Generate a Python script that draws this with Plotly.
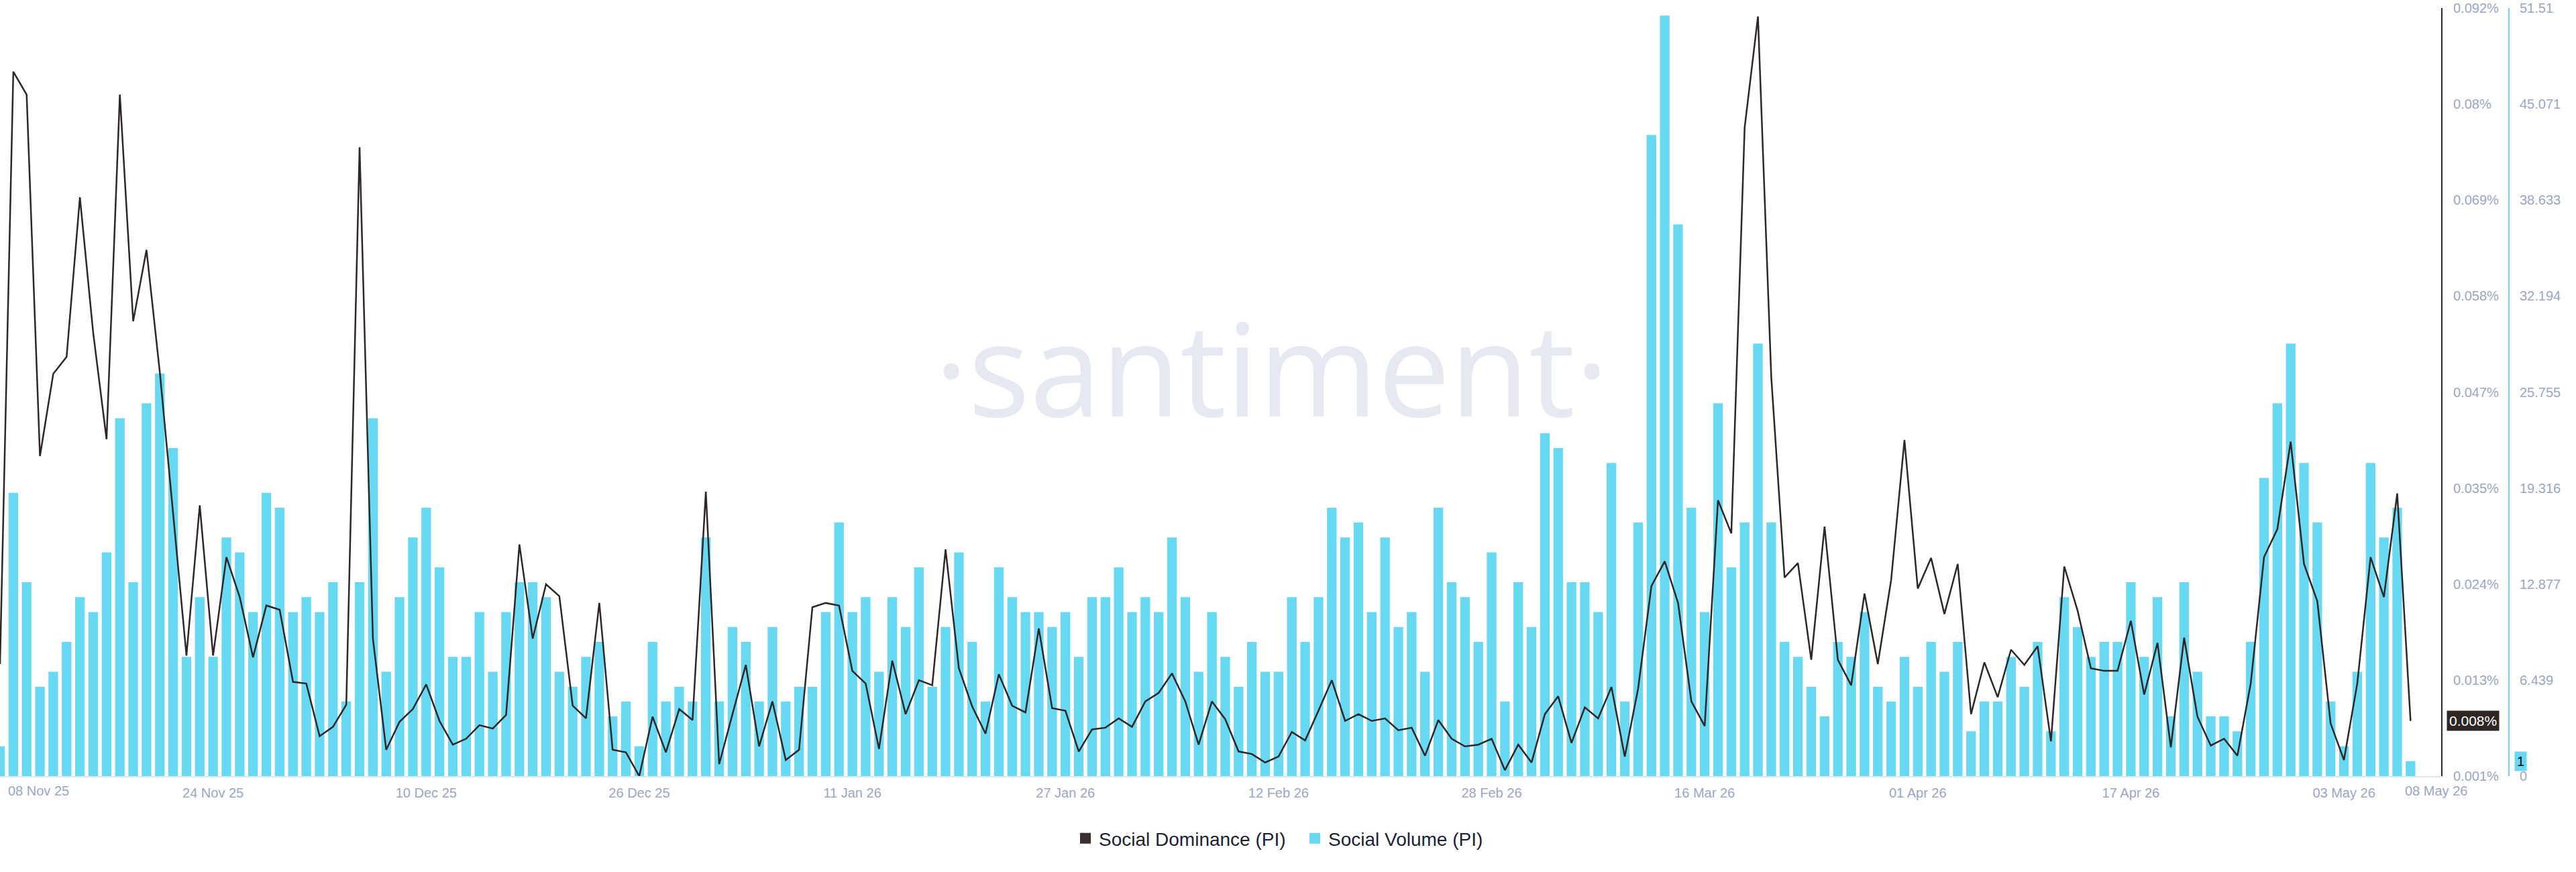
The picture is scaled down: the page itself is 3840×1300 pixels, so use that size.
import pandas as pd
import plotly.graph_objects as go

# ---------------- data ----------------
start_date = "2025-11-08"
end_date = "2026-05-08"
dates = pd.date_range(start_date, end_date, freq="D")

social_volume = [
    2, 19, 13, 6, 7, 9, 12, 11, 15, 24, 13, 25, 27, 22, 8, 12, 8, 16, 15, 11,
    19, 18, 11, 12, 11, 13, 5, 13, 24, 7, 12, 16, 18, 14, 8, 8, 11, 7, 11, 13,
    13, 12, 7, 6, 8, 9, 4, 5, 2,
    9, 5, 6, 5, 16, 5, 10, 9, 5, 10, 5, 6, 6, 11, 17, 11, 12, 7, 12, 10,
    14, 6, 10, 15, 9, 5, 14, 12, 11, 11, 10, 11, 8, 12, 12, 14, 11, 12, 11, 16,
    12, 7, 11, 8, 6, 9, 7, 7, 12,
    9, 12, 18, 16, 17, 11, 16, 10, 11, 7, 18, 13, 12, 9, 15, 5, 13, 10, 23, 22,
    13, 13, 11, 21, 5, 17, 43, 51, 37, 18, 11, 25, 14, 17, 29, 17, 9, 8, 6, 4,
    9, 8, 11, 6, 5, 8, 6,
    9, 7, 9, 3, 5, 5, 8, 6, 9, 3, 12, 10, 8, 9, 9, 13, 8, 12, 4, 13,
    7, 4, 4, 3, 9, 20, 25, 29, 21, 17, 5, 2, 7, 21, 16, 18, 1,
]

social_dominance = [  # percent
    0.0145, 0.0843, 0.0816, 0.0390, 0.0487, 0.0507, 0.0695, 0.0535, 0.0410, 0.0816,
    0.0549, 0.0633, 0.0489, 0.0325, 0.0155, 0.0332, 0.0155, 0.0271, 0.0224, 0.0153,
    0.0214, 0.0209, 0.0124, 0.0122, 0.0060, 0.0071, 0.0097, 0.0754, 0.0175, 0.0044,
    0.0077, 0.0092, 0.0121, 0.0078, 0.0050, 0.0057, 0.0073, 0.0069, 0.0085, 0.0286,
    0.0175, 0.0239, 0.0225, 0.0096, 0.0081, 0.0217, 0.0044, 0.0041, 0.0013, 0.0083,
    0.0041, 0.0092, 0.0079, 0.0348, 0.0027, 0.0086, 0.0144, 0.0048, 0.0101, 0.0032,
    0.0044, 0.0212, 0.0217, 0.0214, 0.0137, 0.0122, 0.0045, 0.0149, 0.0086, 0.0126,
    0.0120, 0.0280, 0.0140, 0.0095, 0.0063, 0.0133, 0.0096, 0.0088, 0.0187, 0.0093,
    0.0090, 0.0042, 0.0068, 0.0070, 0.0081, 0.0071, 0.0101, 0.0111, 0.0134, 0.0101,
    0.0050, 0.0101, 0.0080, 0.0042, 0.0039, 0.0029, 0.0036, 0.0065, 0.0055, 0.0090,
    0.0126, 0.0078, 0.0086, 0.0078, 0.0081, 0.0067, 0.0070, 0.0037, 0.0079, 0.0057,
    0.0048, 0.0050, 0.0057, 0.0020, 0.0050, 0.0029, 0.0086, 0.0107, 0.0052, 0.0094,
    0.0081, 0.0118, 0.0036, 0.0116, 0.0237, 0.0266, 0.0217, 0.0101, 0.0072, 0.0338,
    0.0299, 0.0777, 0.0908, 0.0483, 0.0247, 0.0264, 0.0150, 0.0307, 0.0150, 0.0120,
    0.0228, 0.0145, 0.0244, 0.0409, 0.0234, 0.0270, 0.0204, 0.0263, 0.0086, 0.0147,
    0.0106, 0.0162, 0.0144, 0.0166, 0.0054, 0.0260, 0.0208, 0.0140, 0.0137, 0.0137,
    0.0196, 0.0109, 0.0170, 0.0047, 0.0176, 0.0083, 0.0049, 0.0057, 0.0037, 0.0122,
    0.0271, 0.0304, 0.0407, 0.0263, 0.0219, 0.0075, 0.0032, 0.0122, 0.0271, 0.0224,
    0.0346, 0.0078,
]

x_tick_dates = ["2025-11-24", "2025-12-10", "2025-12-26", "2026-01-11", "2026-01-27",
                "2026-02-12", "2026-02-28", "2026-03-16", "2026-04-01", "2026-04-17",
                "2026-05-03"]
x_first_label = "08 Nov 25"
x_last_label = "08 May 26"

dom_ticktext = ["0.001%", "0.013%", "0.024%", "0.035%", "0.047%", "0.058%", "0.069%", "0.08%", "0.092%"]
dom_range = [0.0013, 0.0918]
vol_ticktext = ["0", "6.439", "12.877", "19.316", "25.755", "32.194", "38.633", "45.071", "51.51"]
vol_tickvals = [0, 6.439, 12.877, 19.316, 25.755, 32.194, 38.633, 45.071, 51.51]
vol_range = [0, 51.51]

series_names = ["Social Dominance (PI)", "Social Volume (PI)"]
last_dom_label = "0.008%"
last_vol_label = "1"

# ---------------- style ----------------
W, H = 3840, 1300
PLOT_RIGHT = 3639        # dominance axis line
PAPER_RIGHT = 3740       # volume axis line
TOP, BOTTOM = 12, 1157
LINE_COLOR = "#2f2626"
BAR_COLOR = "#68d9f2"
TICK_COLOR = "#9ca6c4"
FONT = "Liberation Sans, Arial, sans-serif"

n_steps = len(dom_ticktext) - 1
dom_tickvals = [dom_range[0] + i * (dom_range[1] - dom_range[0]) / n_steps for i in range(n_steps + 1)]

x_end = pd.Timestamp(end_date) + pd.Timedelta(hours=2.3 * 24)

fig = go.Figure()
fig.add_trace(go.Bar(
    x=dates, y=social_volume, name=series_names[1], marker=dict(color=BAR_COLOR, line=dict(width=0)),
    yaxis="y", showlegend=False,
))
fig.add_trace(go.Scatter(
    x=dates, y=social_dominance, name=series_names[0], mode="lines",
    line=dict(color=LINE_COLOR, width=2.5), yaxis="y2", showlegend=False,
))
# legend entries (square swatches)
fig.add_trace(go.Scatter(x=[None], y=[None], mode="markers", name=series_names[0],
                         marker=dict(symbol="square", size=18, color="#3a2f2e"), yaxis="y2"))
fig.add_trace(go.Scatter(x=[None], y=[None], mode="markers", name=series_names[1],
                         marker=dict(symbol="square", size=18, color=BAR_COLOR), yaxis="y2"))

pw = PAPER_RIGHT
ph = BOTTOM - TOP

annotations = [
    dict(text="·santiment·", xref="paper", yref="paper", x=1895 / pw, y=(BOTTOM - 546) / ph,
         xanchor="center", yanchor="middle", showarrow=False,
         font=dict(family="Open Sans", size=192, color="#e6e8f2")),
    dict(text=x_first_label, xref="paper", yref="paper", x=10 / pw, y=(BOTTOM - 1179) / ph,
         xanchor="left", yanchor="middle", showarrow=False,
         font=dict(family=FONT, size=20, color=TICK_COLOR)),
    dict(text=x_last_label, xref="paper", yref="paper", x=3583 / pw, y=(BOTTOM - 1179) / ph,
         xanchor="left", yanchor="middle", showarrow=False,
         font=dict(family=FONT, size=20, color=TICK_COLOR)),
    dict(text=last_dom_label, xref="paper", yref="y2", x=3686 / pw, y=social_dominance[-1],
         xanchor="center", yanchor="middle", showarrow=False, bgcolor=LINE_COLOR, borderpad=3,
         font=dict(family=FONT, size=21, color="#ffffff")),
    dict(text=last_vol_label, xref="paper", yref="y", x=3757 / pw, y=social_volume[-1],
         xanchor="center", yanchor="middle", showarrow=False, bgcolor=BAR_COLOR, borderpad=3,
         font=dict(family=FONT, size=20, color="#000000")),
]

fig.update_layout(
    width=W, height=H,
    margin=dict(l=0, r=W - PAPER_RIGHT, t=TOP, b=H - BOTTOM, pad=0),
    paper_bgcolor="white", plot_bgcolor="white",
    bargap=0.28,
    font=dict(family=FONT, size=20, color=TICK_COLOR),
    xaxis=dict(
        type="date", domain=[0, PLOT_RIGHT / PAPER_RIGHT],
        range=[pd.Timestamp(start_date), x_end],
        tickvals=[pd.Timestamp(d) for d in x_tick_dates], tickformat="%d %b %y",
        showgrid=False, zeroline=False, showline=True, linecolor="#e3e6ef", linewidth=2,
        ticks="", ticklabelstandoff=6,
        tickfont=dict(family=FONT, size=20, color=TICK_COLOR),
    ),
    yaxis=dict(
        range=vol_range, side="right", anchor="free", position=1.0,
        tickvals=vol_tickvals, ticktext=vol_ticktext,
        showgrid=False, zeroline=False, showline=True, linecolor=BAR_COLOR, linewidth=2,
        ticks="", ticklabelstandoff=11,
        tickfont=dict(family=FONT, size=20, color=TICK_COLOR),
    ),
    yaxis2=dict(
        range=dom_range, side="right", anchor="x", overlaying="y",
        tickvals=dom_tickvals, ticktext=dom_ticktext,
        showgrid=False, zeroline=False, showline=True, linecolor=LINE_COLOR, linewidth=2,
        ticks="", ticklabelstandoff=12,
        tickfont=dict(family=FONT, size=20, color=TICK_COLOR),
    ),
    legend=dict(
        orientation="h", x=1598 / pw, xanchor="left", y=(BOTTOM - 1250) / ph, yanchor="middle",
        entrywidth=297, entrywidthmode="pixels",
        font=dict(family=FONT, size=28, color="#1b1f36"), itemwidth=30, bgcolor="rgba(0,0,0,0)",
    ),
    annotations=annotations,
)

fig.write_html("out.html")
